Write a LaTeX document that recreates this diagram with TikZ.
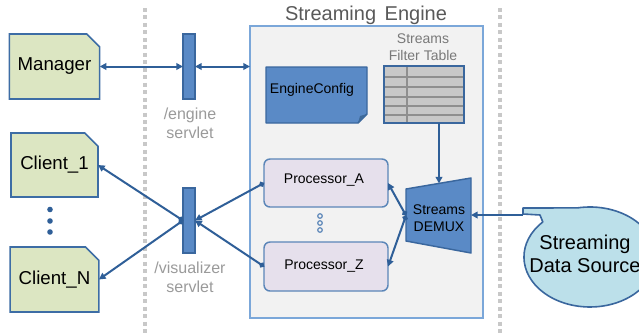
\documentclass[tikz,border=0pt]{standalone}
\usepackage{fontspec}
\setmainfont{Liberation Sans}
\usetikzlibrary{arrows.meta,calc,shapes.misc}

\definecolor{linkblue}{HTML}{2F5F98}
\definecolor{barblue}{HTML}{5A8AC6}
\definecolor{baredge}{HTML}{3A679E}
\definecolor{clientfill}{HTML}{DCE6C2}
\definecolor{clientedge}{HTML}{3D6DA5}
\definecolor{procfill}{HTML}{E6E0EC}
\definecolor{procedge}{HTML}{5B86B8}
\definecolor{enginefill}{HTML}{F2F2F2}
\definecolor{engineedge}{HTML}{7BA7D9}
\definecolor{srcfill}{HTML}{BCE0EA}
\definecolor{sepgrey}{HTML}{C8C8C8}
\definecolor{labelgrey}{HTML}{9A9A9A}
\definecolor{titlegrey}{HTML}{595959}
\definecolor{tablefill}{HTML}{C8C8C8}
\definecolor{tableline}{HTML}{8F8F8F}
\definecolor{foldblue}{HTML}{3E6A9A}

\begin{document}
\begin{tikzpicture}[x=0.75pt,y=-0.75pt,
  every node/.style={inner sep=0pt, outer sep=0pt},
  clientbox/.style={chamfered rectangle, chamfered rectangle corners=north east,
    chamfered rectangle xsep=6.75pt, chamfered rectangle angle=45,
    fill=clientfill, draw=clientedge, line width=1.2pt,
    minimum width=65.25pt, font=\fontsize{14}{16}\selectfont},
  servletbar/.style={rectangle, fill=barblue, draw=baredge, line width=1.1pt,
    minimum width=9pt, minimum height=48.75pt},
  procbox/.style={rectangle, rounded corners=4.5pt, fill=procfill, draw=procedge,
    line width=1.1pt, minimum width=93pt, font=\fontsize{10.5}{12}\selectfont},
  graylabel/.style={text=labelgrey, align=center, font=\fontsize{12}{14.3}\selectfont},
  link/.style={draw=linkblue, line width=1.5pt},
  tip/.tip={Triangle[length=5pt,width=5pt]},
  dot/.tip={Circle[length=4pt]},
  separator/.style={draw=sepgrey, line width=3pt, dash pattern=on 3pt off 2.6pt}]

\useasboundingbox (0,0) rectangle (639,333);

% dotted tier separators
\draw[separator] (145,8) -- (145,333);
\draw[separator] (500,8) -- (500,333);

% engine container
\node[rectangle, fill=enginefill, draw=engineedge, line width=1.2pt,
  minimum width=174.75pt, minimum height=219pt] (engine) at (366.5,172) {};
\node[text=titlegrey, font=\fontsize{15}{17}\selectfont] (enginetitle) at (366,15) {Streaming\hspace{0.15em} Engine};

% clients and manager
\node[clientbox, minimum height=48.75pt] (manager) at (54.5,66.5) {Manager};
\node[clientbox, minimum height=48pt] (client1) at (54.5,165) {Client\_1};
\node[clientbox, minimum height=48.75pt] (clientN) at (54.5,279.5) {Client\_N};
\foreach \yy in {209.5,221,232}
  \fill[linkblue] (50,\yy) circle[radius=2.1pt];

% servlets
\node[servletbar] (enginebar) at (189,66.5) {};
\node[graylabel] (enginelabel) at (190,123) {/engine\\servlet};
\node[servletbar] (vizbar) at (189,220.5) {};
\node[graylabel] (vizlabel) at (190,277) {/visualizer\\servlet};

% engine configuration document with folded corner
\fill[barblue] (266,67) -- (367,67) -- (367,114) -- (358,123) -- (266,123) -- cycle;
\draw[baredge, line width=1.1pt, line join=round]
  (266,67) -- (367,67) -- (367,114) -- (358,123) -- (266,123) -- cycle;
\fill[foldblue] (367,114) -- (358,123) -- (360,116) -- cycle;
\node[minimum width=75.75pt, minimum height=42pt] (config) at (316.5,95) {};
\node[font=\fontsize{10.5}{12}\selectfont] (configtext) at (312,90) {EngineConfig};

% streams filter table
\node[text=gray!95!black, align=center, font=\fontsize{10.5}{12.5}\selectfont] (tablelabel) at (423,47) {Streams\\Filter Table};
\node[rectangle, fill=tablefill, minimum width=60pt, minimum height=42.75pt] (table) at (424,94.5) {};
\draw[tableline, line width=1.1pt] (407,66) -- (407,123);
\foreach \yy in {77,87,97,106,115}
  \draw[tableline, line width=1.1pt] (384,\yy) -- (464,\yy);
\draw[baredge, line width=1.1pt] (table.south west) rectangle (table.north east);

% processors
\node[procbox, minimum height=36pt] (procA) at (326,183) {};
\node[font=\fontsize{10.5}{12}\selectfont] at (324,180.5) {Processor\_A};
\node[procbox, minimum height=36.75pt] (procZ) at (326,266.5) {};
\node[font=\fontsize{10.5}{12}\selectfont] at (324,266) {Processor\_Z};
\foreach \yy in {216,223,230}
  \draw[procedge, fill=enginefill, line width=0.9pt] (320,\yy) circle[radius=1.7pt];

% demultiplexer
\draw[fill=barblue, draw=baredge, line width=1.1pt, line join=round]
  (406,189) -- (471,178) -- (471,253) -- (406,241) -- cycle;
\node[minimum width=48.75pt, minimum height=56.25pt] (demux) at (438.5,215.5) {};
\node[align=center, font=\fontsize{10.5}{12.5}\selectfont] (demuxtext) at (439,218) {Streams\\DEMUX};
\coordinate (demuxtop) at (439,183.5);

% streaming data source callout
\draw[fill=srcfill, draw=baredge, line width=1.2pt, line join=round]
  (523,208) -- (523,214) -- (540,215) -- (542.8,222)
  arc[start angle=224.4, end angle=-101, x radius=66, y radius=50] -- cycle;
\node[align=center, font=\fontsize{15}{17}\selectfont] (source) at (585,254) {Streaming\\Data Source};
\coordinate (sourcetab) at (523,215);

% connectors
\draw[link, tip-tip] (manager.east) -- (enginebar.west);
\draw[link, tip-tip] (enginebar.east) -- (enginebar.east -| engine.west);
\draw[link, dot-tip] (vizbar.west) -- (client1.east);
\draw[link, dot-tip] (vizbar.west) -- (clientN.east);
\draw[link, dot-tip] (procA.west) -- (vizbar.east);
\draw[link, dot-tip] (procZ.west) -- (vizbar.east);
\draw[link, dot-tip] (demux.west) -- (procA.east);
\draw[link, dot-tip] (demux.west) -- (procZ.east);
\draw[link, -tip] (table.south -| demuxtop) -- (demuxtop);
\draw[link, -tip] (sourcetab) -- (sourcetab -| demux.east);

\end{tikzpicture}
\end{document}
